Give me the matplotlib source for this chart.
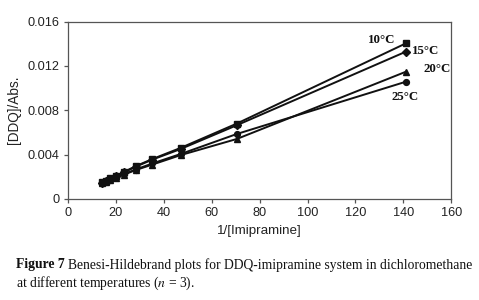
import matplotlib.pyplot as plt
import numpy as np

plt.rcParams['mathtext.fontset'] = 'stix'

# 1/[Imipramine] values
inv_conc = [14.1, 15.7, 17.6, 20.1, 23.5, 28.2, 35.25, 47.0, 70.5, 141.0]

# [DDQ]/Abs. at each temperature
y_10 = [0.00150, 0.00165, 0.00185, 0.00210, 0.00245, 0.00295, 0.00360, 0.00460, 0.00680, 0.01403]
y_15 = [0.00145, 0.00160, 0.00180, 0.00205, 0.00240, 0.00290, 0.00355, 0.00450, 0.00665, 0.01328]
y_20 = [0.00140, 0.00152, 0.00170, 0.00190, 0.00220, 0.00260, 0.00310, 0.00395, 0.00541, 0.01147]
y_25 = [0.00140, 0.00155, 0.00172, 0.00195, 0.00225, 0.00265, 0.00320, 0.00405, 0.00586, 0.01057]

series = [(y_10, 's', '10°C'), (y_15, 'D', '15°C'), (y_20, '^', '20°C'), (y_25, 'o', '25°C')]
label_pos = {'10°C': (125.3, 0.01433), '15°C': (143.8, 0.01334),
             '20°C': (148.3, 0.01172), '25°C': (134.9, 0.00919)}

fig = plt.figure(figsize=(4.79, 3.0), dpi=100)
ax = fig.add_axes([0.142, 0.337, 0.800, 0.591])

for ys, mk, name in series:
    ms = 3.6 if mk == 'D' else 4.2
    ax.plot(inv_conc, ys, color='#111111', lw=1.4, marker=mk, ms=ms,
            mfc='#111111', mec='#111111')
    tx, ty = label_pos[name]
    ax.text(tx, ty, name, family='Liberation Serif', fontweight='bold',
            fontsize=9.3, ha='left', va='center', color='#111111')

ax.set_xlim(0, 160)
ax.set_ylim(0, 0.016)
ax.set_xticks(np.arange(0, 161, 20))
ax.set_yticks([0, 0.004, 0.008, 0.012, 0.016])
ax.set_yticklabels(['0', '0.004', '0.008', '0.012', '0.016'])

for s in ax.spines.values():
    s.set_color('#555555')
    s.set_linewidth(0.9)
ax.tick_params(direction='out', length=3, width=0.9, color='#555555',
               labelsize=9.2, labelcolor='#222222', pad=3)
for lab in ax.get_xticklabels() + ax.get_yticklabels():
    lab.set_family('Liberation Sans')

ax.set_xlabel('1/[Imipramine]', family='Liberation Sans', fontsize=9.6, color='#222222', labelpad=4)
ax.set_ylabel('[DDQ]/Abs.', family='Liberation Sans', fontsize=9.8, color='#222222', labelpad=5)

# caption
fig.text(16 / 479, 0.117, 'Figure 7', family='Liberation Serif', fontweight='bold',
         fontsize=9.8, va='center', ha='left', color='#111111')
fig.text(68 / 479, 0.117, 'Benesi-Hildebrand plots for DDQ-imipramine system in dichloromethane',
         family='Liberation Serif', fontsize=9.8, va='center', ha='left', color='#111111')
fig.text(16 / 479, 0.057, 'at different temperatures ($\\it{n}$ = 3).',
         family='Liberation Serif', fontsize=9.8, va='center', ha='left', color='#111111')

fig.savefig('out.png', dpi=100)
